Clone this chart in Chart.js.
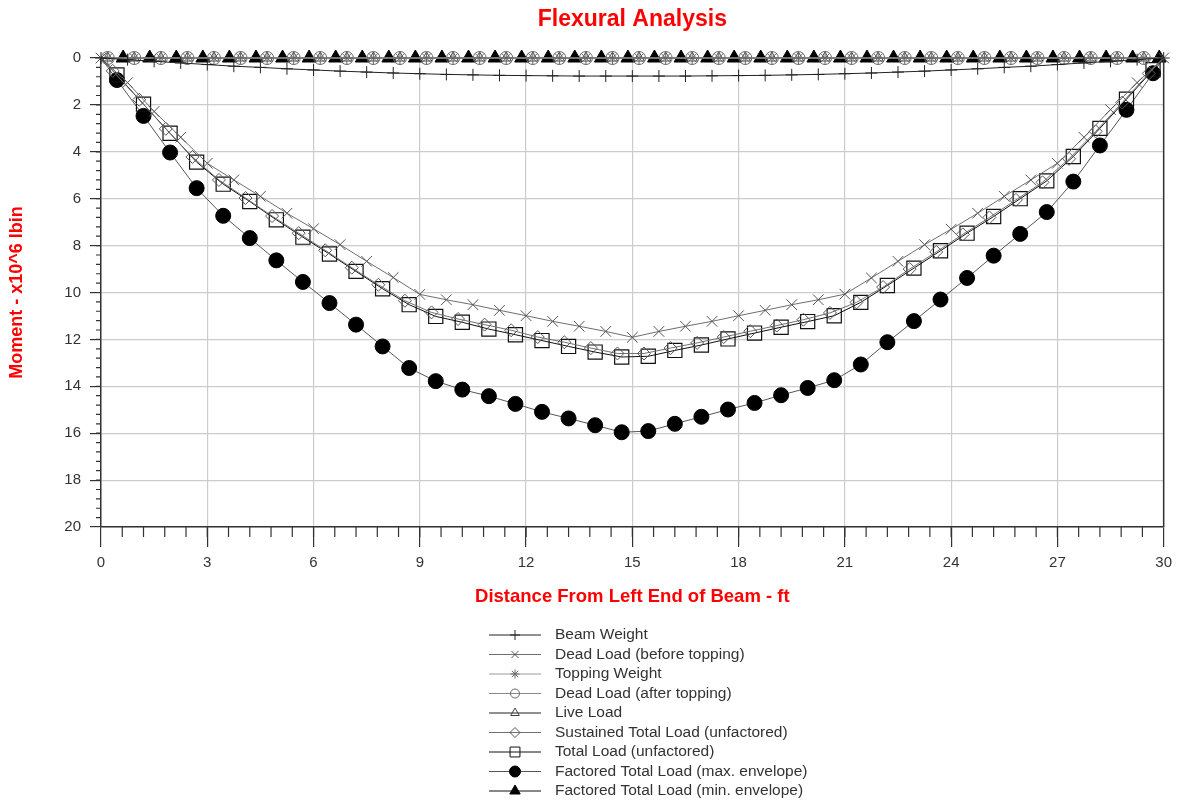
<!DOCTYPE html>
<html>
<head>
<meta charset="utf-8">
<title>Flexural Analysis</title>
<script src="https://cdn.jsdelivr.net/npm/chart.js"></script>
<style>
  html, body { margin: 0; padding: 0; background: #fff; }
  #wrap { width: 1179px; height: 806px; }
</style>
</head>
<body>
<div id="wrap"><canvas id="flex-chart"></canvas></div>
<script>
// stations along the beam (ft)
const stationsGrid = [0, 0.75, 1.5, 2.25, 3, 3.75, 4.5, 5.25, 6, 6.75, 7.5, 8.25, 9, 9.75, 10.5, 11.25, 12, 12.75, 13.5, 14.25, 15,
  15.75, 16.5, 17.25, 18, 18.75, 19.5, 20.25, 21, 21.75, 22.5, 23.25, 24, 24.75, 25.5, 26.25, 27, 27.75, 28.5, 29.25, 30];
const stationsTotal = [0, 0.45, 1.2, 1.95, 2.7, 3.45, 4.2, 4.95, 5.7, 6.45, 7.2, 7.95, 8.7, 9.45, 10.2, 10.95, 11.7, 12.45, 13.2, 13.95, 14.7,
  15.45, 16.2, 16.95, 17.7, 18.45, 19.2, 19.95, 20.7, 21.45, 22.2, 22.95, 23.7, 24.45, 25.2, 25.95, 26.7, 27.45, 28.2, 28.95, 29.7, 30];
const stationsSustained = [0, 0.33, 1.08, 1.83, 2.58, 3.33, 4.08, 4.83, 5.58, 6.33, 7.08, 7.83, 8.58, 9.33, 10.08, 10.83, 11.58, 12.33, 13.08, 13.83, 14.58,
  15.33, 16.08, 16.83, 17.58, 18.33, 19.08, 19.83, 20.58, 21.33, 22.08, 22.83, 23.58, 24.33, 25.08, 25.83, 26.58, 27.33, 28.08, 28.83, 29.58, 30];
const stationsTop = [0, 0.19, 0.94, 1.69, 2.44, 3.19, 3.94, 4.69, 5.44, 6.19, 6.94, 7.69, 8.44, 9.19, 9.94, 10.69, 11.44, 12.19, 12.94, 13.69, 14.44,
  15.19, 15.94, 16.69, 17.44, 18.19, 18.94, 19.69, 20.44, 21.19, 21.94, 22.69, 23.44, 24.19, 24.94, 25.69, 26.44, 27.19, 27.94, 28.69, 29.44, 30];
const stationsMinEnv = [0, 0.625, 1.375, 2.125, 2.875, 3.625, 4.375, 5.125, 5.875, 6.625, 7.375, 8.125, 8.875, 9.625, 10.375, 11.125, 11.875, 12.625, 13.375, 14.125, 14.875,
  15.625, 16.375, 17.125, 17.875, 18.625, 19.375, 20.125, 20.875, 21.625, 22.375, 23.125, 23.875, 24.625, 25.375, 26.125, 26.875, 27.625, 28.375, 29.125, 29.875, 30];

// moments (x10^6 lbin)
const beamWeight = [0, 0.07, 0.14, 0.21, 0.28, 0.35, 0.40, 0.46, 0.51, 0.56, 0.60, 0.64, 0.67, 0.70, 0.72, 0.74, 0.75, 0.76, 0.77, 0.77, 0.77,
  0.77, 0.77, 0.76, 0.75, 0.74, 0.72, 0.70, 0.67, 0.64, 0.60, 0.56, 0.51, 0.46, 0.40, 0.35, 0.28, 0.21, 0.14, 0.07, 0];
const deadBefore = [0, 1.05, 2.28, 3.38, 4.49, 5.2, 5.9, 6.62, 7.28, 7.96, 8.67, 9.36, 10.08, 10.31, 10.52, 10.76, 10.99, 11.23, 11.44, 11.66, 11.91,
  11.66, 11.44, 11.23, 10.99, 10.76, 10.52, 10.31, 10.07, 9.38, 8.67, 7.96, 7.3, 6.62, 5.9, 5.2, 4.49, 3.38, 2.2, 1.05, 0];
const nearZero = [0, 0, 0, 0, 0, 0, 0, 0, 0, 0, 0, 0, 0, 0, 0, 0, 0, 0, 0, 0, 0,
  0, 0, 0, 0, 0, 0, 0, 0, 0, 0, 0, 0, 0, 0, 0, 0, 0, 0, 0, 0, 0];
const sustainedTotal = [0, 0.55, 1.78, 3.02, 4.22, 5.2, 5.97, 6.74, 7.47, 8.2, 8.94, 9.67, 10.35, 10.85, 11.13, 11.37, 11.61, 11.9, 12.12, 12.37, 12.6,
  12.6, 12.37, 12.15, 11.9, 11.65, 11.41, 11.16, 10.87, 10.42, 9.77, 9.0, 8.27, 7.52, 6.8, 6.05, 5.3, 4.3, 3.13, 1.9, 0.66, 0];
const totalLoad = [0, 0.72, 1.97, 3.21, 4.44, 5.38, 6.12, 6.9, 7.64, 8.36, 9.1, 9.84, 10.52, 11.02, 11.27, 11.56, 11.8, 12.05, 12.3, 12.54, 12.75,
  12.72, 12.47, 12.24, 11.98, 11.73, 11.48, 11.24, 10.99, 10.42, 9.7, 8.96, 8.22, 7.47, 6.76, 6.0, 5.24, 4.2, 3.0, 1.76, 0.5, 0];
const factoredMax = [0, 0.94, 2.47, 4.03, 5.55, 6.73, 7.68, 8.63, 9.55, 10.45, 11.37, 12.3, 13.22, 13.78, 14.14, 14.42, 14.75, 15.09, 15.37, 15.66, 15.96,
  15.91, 15.6, 15.3, 14.99, 14.71, 14.38, 14.07, 13.74, 13.07, 12.12, 11.22, 10.3, 9.38, 8.43, 7.5, 6.57, 5.27, 3.73, 2.21, 0.65, 0];

const xTicks = [0, 3, 6, 9, 12, 15, 18, 21, 24, 27, 30];
const yTicks = [0, 2, 4, 6, 8, 10, 12, 14, 16, 18, 20];

Chart.defaults.font.family = '"Liberation Sans", Arial, Helvetica, sans-serif';
Chart.defaults.color = '#333';

function toPoints(xs, ys) {
  return xs.map((x, i) => ({ x: x, y: ys[i] }));
}

function endsHidden(r) {
  return c => (c.dataIndex === 0 || c.dataIndex === c.dataset.data.length - 1) ? 0 : r;
}

function series(label, xs, ys, style) {
  return Object.assign({
    label: label,
    data: toPoints(xs, ys),
    tension: 0,
    clip: false,
    borderWidth: 1,
    pointBorderWidth: 1,
    pointBackgroundColor: 'rgba(0,0,0,0)'
  }, style);
}

const datasets = [
  series('Beam Weight', stationsGrid, beamWeight, {
    borderColor: '#222', pointBorderColor: '#222', pointStyle: 'cross', pointRadius: 6, legendRadius: 5
  }),
  series('Dead Load (before topping)', stationsGrid, deadBefore, {
    borderColor: '#6e6e6e', pointBorderColor: '#555', pointStyle: 'crossRot', pointRadius: 7.5, legendRadius: 5
  }),
  series('Topping Weight', stationsTop, nearZero, {
    borderColor: '#9a9a9a', pointBorderColor: '#666', pointStyle: 'star', pointRadius: endsHidden(6.5), legendRadius: 4.5
  }),
  series('Dead Load (after topping)', stationsTop, nearZero, {
    borderColor: '#8a8a8a', pointBorderColor: '#666', pointStyle: 'circle', pointRadius: endsHidden(6.5), legendRadius: 4.5
  }),
  series('Live Load', stationsTop, nearZero, {
    borderColor: '#222', pointBorderColor: '#444', pointStyle: 'triangle', pointRadius: endsHidden(6), legendRadius: 5
  }),
  series('Sustained Total Load (unfactored)', stationsSustained, sustainedTotal, {
    borderColor: '#707070', pointBorderColor: '#555', pointStyle: 'rectRot', pointRadius: endsHidden(6.5), legendRadius: 5
  }),
  series('Total Load (unfactored)', stationsTotal, totalLoad, {
    borderColor: '#111', pointBorderColor: '#111', pointStyle: 'rect', pointRadius: endsHidden(10), pointBorderWidth: 1.2, legendRadius: 7
  }),
  series('Factored Total Load (max. envelope)', stationsTotal, factoredMax, {
    borderColor: '#555', pointBorderColor: '#000', pointBackgroundColor: '#000', pointStyle: 'circle', pointRadius: endsHidden(7.5), legendRadius: 5.5
  }),
  series('Factored Total Load (min. envelope)', stationsMinEnv, nearZero, {
    borderColor: '#111', pointBorderColor: '#000', pointBackgroundColor: '#000', pointStyle: 'triangle', pointRadius: endsHidden(8), legendRadius: 6
  })
];

// minor ticks and right frame line, placed with the chart's scales
const frameTicks = {
  id: 'frameTicks',
  afterDraw(chart) {
    const { ctx, chartArea: a, scales: { x, y } } = chart;
    ctx.save();
    ctx.strokeStyle = '#333';
    ctx.lineWidth = 1.2;
    ctx.beginPath();
    for (let i = 1; i < 50; i++) {
      const px = x.getPixelForValue(i * 0.6);
      ctx.moveTo(px, a.bottom);
      ctx.lineTo(px, a.bottom + 10);
    }
    for (let i = 1; i < 50; i++) {
      const py = y.getPixelForValue(i * 0.4);
      ctx.moveTo(a.left - 5, py);
      ctx.lineTo(a.left, py);
    }
    ctx.stroke();
    ctx.lineWidth = 1.5;
    ctx.beginPath();
    ctx.moveTo(a.right, a.top);
    ctx.lineTo(a.right, a.bottom);
    ctx.stroke();
    ctx.restore();
  }
};

// stacked legend below the axis title, one row per dataset
const stackedLegend = {
  id: 'stackedLegend',
  afterDraw(chart) {
    const ctx = chart.ctx;
    const top = chart.chartArea.bottom + 108;
    const lineX0 = 489, lineX1 = 541, textX = 555, rowH = 19.5;
    chart.data.datasets.forEach((ds, i) => {
      const yy = top + i * rowH;
      ctx.save();
      ctx.strokeStyle = ds.borderColor;
      ctx.lineWidth = 1;
      ctx.beginPath();
      ctx.moveTo(lineX0, yy);
      ctx.lineTo(lineX1, yy);
      ctx.stroke();
      ctx.fillStyle = ds.pointBackgroundColor;
      ctx.strokeStyle = ds.pointBorderColor;
      ctx.lineWidth = 1;
      Chart.helpers.drawPoint(ctx, {
        pointStyle: ds.pointStyle, radius: ds.legendRadius, borderWidth: 1, rotation: 0
      }, (lineX0 + lineX1) / 2, yy);
      ctx.fillStyle = '#333';
      ctx.font = '15.5px "Liberation Sans", Arial, sans-serif';
      ctx.textBaseline = 'middle';
      ctx.textAlign = 'left';
      ctx.fillText(ds.label, textX, yy);
      ctx.restore();
    });
  }
};

new Chart(document.getElementById('flex-chart'), {
  type: 'line',
  data: { datasets: datasets },
  plugins: [frameTicks, stackedLegend],
  options: {
    responsive: true,
    maintainAspectRatio: false,
    animation: false,
    layout: { padding: { left: 0, right: 14, top: 0, bottom: 179 } },
    plugins: {
      legend: { display: false },
      tooltip: { enabled: false },
      title: {
        display: true,
        text: 'Flexural Analysis',
        color: '#ff0000',
        fullSize: false,
        font: { size: 23, weight: 'bold' },
        padding: { top: 6, bottom: 24.4 }
      }
    },
    scales: {
      x: {
        type: 'linear',
        min: 0,
        max: 30,
        afterFit: s => { s.height = 100; },
        afterBuildTicks: s => { s.ticks = xTicks.map(v => ({ value: v })); },
        border: { display: true, color: '#333', width: 1.5 },
        grid: { color: '#cccccc', lineWidth: 1.2, tickColor: '#333', tickLength: 20, tickWidth: 1.2 },
        ticks: { color: '#333', font: { size: 15 }, padding: 7, maxRotation: 0, autoSkip: false },
        title: {
          display: true,
          text: 'Distance From Left End of Beam - ft',
          color: '#ff0000',
          font: { size: 18.5, weight: 'bold' },
          padding: { top: 0, bottom: 19 }
        }
      },
      y: {
        type: 'linear',
        min: 0,
        max: 20,
        reverse: true,
        afterFit: s => { s.width = 101; },
        afterBuildTicks: s => { s.ticks = yTicks.map(v => ({ value: v })); },
        border: { display: true, color: '#333', width: 1.5 },
        grid: { color: '#cccccc', lineWidth: 1.2, tickColor: '#333', tickLength: 11, tickWidth: 1.2 },
        ticks: { color: '#333', font: { size: 15 }, padding: 9 },
        title: {
          display: true,
          text: 'Moment - x10^6 lbin',
          color: '#ff0000',
          font: { size: 18, weight: 'bold' },
          padding: { top: 6, bottom: 0 }
        }
      }
    }
  }
});
</script>
</body>
</html>
